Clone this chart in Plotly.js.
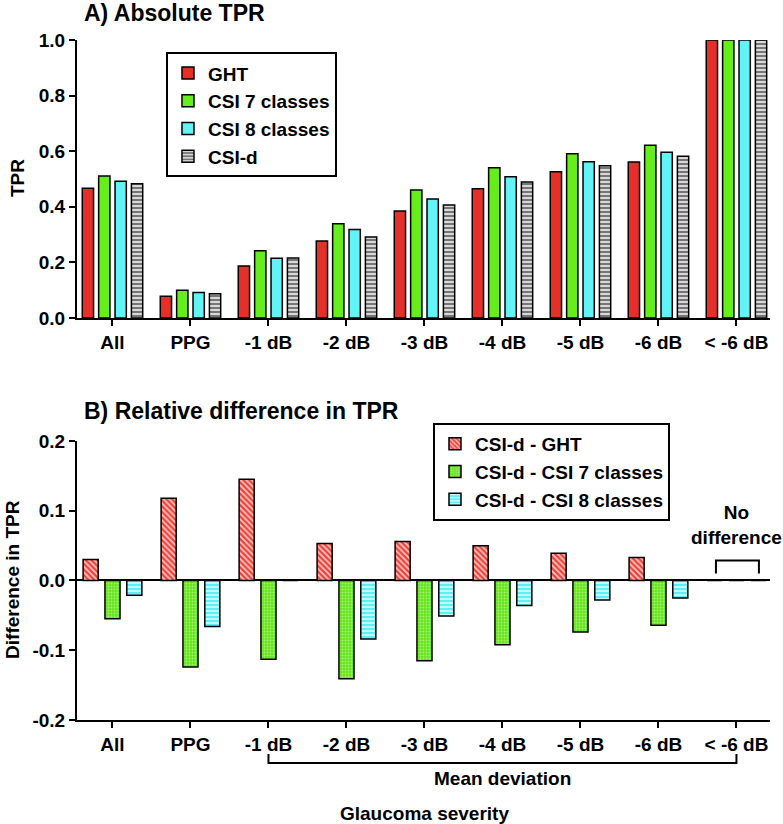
<!DOCTYPE html>
<html>
<head>
<meta charset="utf-8">
<script src="https://cdn.plot.ly/plotly-3.0.1.min.js"></script>
<style>html,body{margin:0;padding:0;background:#fff;}#chart{width:783px;height:824px;}</style>
</head>
<body>
<div id="chart"></div>
<script>
// ---- data ----
const categories = ['All', 'PPG', '-1 dB', '-2 dB', '-3 dB', '-4 dB', '-5 dB', '-6 dB', '< -6 dB'];

const tprGHT  = [0.467, 0.078, 0.187, 0.277, 0.385, 0.465, 0.526, 0.561, 1.0];
const tprCSI7 = [0.511, 0.100, 0.242, 0.339, 0.460, 0.540, 0.591, 0.621, 1.0];
const tprCSI8 = [0.492, 0.092, 0.215, 0.318, 0.428, 0.508, 0.562, 0.596, 1.0];
const tprCSId = [0.483, 0.087, 0.216, 0.291, 0.406, 0.489, 0.548, 0.582, 1.0];

const diffGHT  = [0.030, 0.118, 0.145, 0.053, 0.056, 0.050, 0.039, 0.033, 0];
const diffCSI7 = [-0.055, -0.124, -0.113, -0.141, -0.115, -0.092, -0.074, -0.064, 0];
const diffCSI8 = [-0.021, -0.066, 0, -0.084, -0.051, -0.036, -0.028, -0.025, 0];

const topTickVals = [0, 0.2, 0.4, 0.6, 0.8, 1.0];
const topTickText = ['0.0', '0.2', '0.4', '0.6', '0.8', '1.0'];
const botTickVals = [-0.2, -0.1, 0, 0.1, 0.2];
const botTickText = ['-0.2', '-0.1', '0.0', '0.1', '0.2'];

// ---- style ----
const FONT = 'Liberation Sans, Arial, Helvetica, sans-serif';
const RED = '#e5302a', GREEN = '#66ee1c', CYAN = '#62f3f7', GREY = '#7c7c7c';
const outline = {color: '#000', width: 1.5};

function bar(name, x, y, color, pattern, xa, ya, legend, group) {
  const m = {color: color, line: outline};
  if (pattern) m.pattern = pattern;
  return {type: 'bar', name: name, x: x, y: y, marker: m, xaxis: xa, yaxis: ya,
          legend: legend, legendgroup: group, hoverinfo: 'skip'};
}

const traces = [
  bar('GHT', categories, tprGHT, RED, null, 'x', 'y', 'legend', 'a1'),
  bar('CSI 7 classes', categories, tprCSI7, GREEN, null, 'x', 'y', 'legend', 'a2'),
  bar('CSI 8 classes', categories, tprCSI8, CYAN, null, 'x', 'y', 'legend', 'a3'),
  bar('CSI-d', categories, tprCSId, GREY,
      {shape: '-', bgcolor: '#767676', fgcolor: '#f2f2f2', fillmode: 'replace', size: 4, solidity: 0.4},
      'x', 'y', 'legend', 'a4'),
  bar('CSI-d - GHT', categories, diffGHT, '#e8463f',
      {shape: '\\', bgcolor: '#e8463f', fgcolor: '#ffc8c4', fillmode: 'replace', size: 4, solidity: 0.4},
      'x2', 'y2', 'legend2', 'b1'),
  bar('CSI-d - CSI 7 classes', categories, diffCSI7, '#68e81f',
      {shape: '.', bgcolor: '#66e41e', fgcolor: '#a8f472', fillmode: 'replace', size: 3, solidity: 0.3},
      'x2', 'y2', 'legend2', 'b2'),
  bar('CSI-d - CSI 8 classes', categories, diffCSI8, '#5eeef4',
      {shape: '-', bgcolor: '#5eeef4', fgcolor: '#e8ffff', fillmode: 'replace', size: 4, solidity: 0.35},
      'x2', 'y2', 'legend2', 'b3')
];

const tickFont = {family: FONT, size: 19, color: '#000', weight: 700};
const xRange = [-0.455, 8.43];

const xCommon = {
  type: 'category', range: xRange, showline: true, linecolor: '#000', linewidth: 2,
  ticks: 'outside', ticklen: 6, tickwidth: 2, tickcolor: '#000', tickfont: tickFont,
  showgrid: false, zeroline: false, fixedrange: true
};
const yCommon = {
  showline: true, linecolor: '#000', linewidth: 2, ticks: 'outside', ticklen: 6,
  tickwidth: 2, tickcolor: '#000', tickfont: tickFont, showgrid: false, fixedrange: true,
  tickmode: 'array'
};

const legendCommon = {
  bgcolor: '#fff', bordercolor: '#000', borderwidth: 2,
  font: {family: FONT, size: 19, color: '#000', weight: 700},
  xanchor: 'left', yanchor: 'top', traceorder: 'normal'
};

const titleFont = {family: FONT, size: 23, color: '#000', weight: 700};
const labelFont = {family: FONT, size: 19, color: '#000', weight: 700};

const layout = {
  width: 783, height: 824,
  margin: {l: 77, r: 13, t: 40, b: 104},
  paper_bgcolor: '#fff', plot_bgcolor: '#fff',
  barmode: 'group', bargap: 0.16, bargroupgap: 0.31,
  showlegend: true,
  xaxis: Object.assign({}, xCommon, {anchor: 'y'}),
  yaxis: Object.assign({}, yCommon, {domain: [0.5912, 1], range: [0, 1],
    tickvals: topTickVals, ticktext: topTickText, zeroline: false, anchor: 'x'}),
  xaxis2: Object.assign({}, xCommon, {anchor: 'y2'}),
  yaxis2: Object.assign({}, yCommon, {domain: [0, 0.4103], range: [-0.2, 0.2],
    tickvals: botTickVals, ticktext: botTickText, zeroline: true, zerolinecolor: '#000',
    zerolinewidth: 2, anchor: 'x2'}),
  legend: Object.assign({}, legendCommon, {x: 0.1284, y: 0.982, tracegroupgap: 0}),
  legend2: Object.assign({}, legendCommon, {x: 0.5137, y: 0.4368, tracegroupgap: 4}),
  annotations: [
    {text: 'A) Absolute TPR', xref: 'paper', yref: 'paper', x: 0.0072, y: 1.0397,
     xanchor: 'left', yanchor: 'middle', showarrow: false, font: titleFont},
    {text: 'B) Relative difference in TPR', xref: 'paper', yref: 'paper', x: 0.0072, y: 0.4544,
     xanchor: 'left', yanchor: 'middle', showarrow: false, font: titleFont},
    {text: 'TPR', xref: 'paper', yref: 'paper', x: 0, xshift: -60, y: 0.797,
     xanchor: 'center', yanchor: 'middle', textangle: -90, showarrow: false, font: labelFont},
    {text: 'Difference in TPR', xref: 'paper', yref: 'paper', x: 0, xshift: -64, y: 0.206,
     xanchor: 'center', yanchor: 'middle', textangle: -90, showarrow: false, font: labelFont},
    {text: 'No<br>difference', xref: 'x2', yref: 'y2', x: 8, y: 0.0799, xanchor: 'center', yanchor: 'middle',
     showarrow: false, font: labelFont},
    {text: 'Mean deviation', xref: 'x2', yref: 'paper', x: 5, y: -0.0853, xanchor: 'center', yanchor: 'middle',
     showarrow: false, font: labelFont},
    {text: 'Glaucoma severity', xref: 'x2', yref: 'paper', x: 4, y: -0.1368, xanchor: 'center', yanchor: 'middle',
     showarrow: false, font: labelFont}
  ],
  shapes: [
    // "No difference" bracket
    {type: 'path', xref: 'x2', yref: 'y2', path: 'M 7.737 0.010 L 7.737 0.0288 L 8.288 0.0288 L 8.288 0.010',
     line: {color: '#000', width: 2}},
    // "Mean deviation" bracket
    {type: 'path', xref: 'x2', yref: 'paper', path: 'M 2 -0.050 L 2 -0.0632 L 8 -0.0632 L 8 -0.050',
     line: {color: '#000', width: 2}}
  ]
};

Plotly.newPlot('chart', traces, layout, {displayModeBar: false, staticPlot: true});
</script>
</body>
</html>
